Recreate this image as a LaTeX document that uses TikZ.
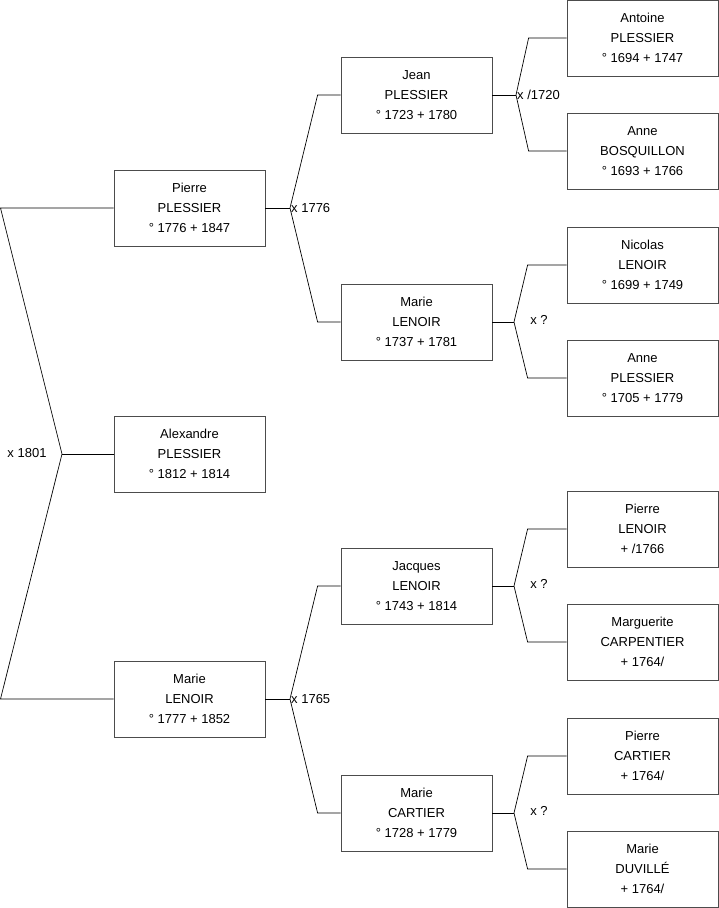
\documentclass[tikz,border=0pt]{standalone}
\usepackage{fontspec}
\setmainfont{Liberation Sans}
\usetikzlibrary{calc, positioning}
\tikzset{
    person/.style={draw=black!70, line width=0.8pt, minimum width=151pt, minimum height=76pt, inner sep=0pt, align=center, font=\fontsize{13}{20}\selectfont},
    branch/.style={black, line width=0.7pt},
    wedding/.style={inner sep=1pt, font=\fontsize{13}{16}\selectfont}
}

\begin{document}
\begin{tikzpicture}[x=1pt, y=-1pt]
        \useasboundingbox (0,0) rectangle (719,908);

        \node [person] (pierre) at (189.5,208) {Pierre\\PLESSIER\\° 1776 + 1847};
        \node [person] (alexandre) at (189.5,454) {Alexandre\\PLESSIER\\° 1812 + 1814};
        \node [person] (marieL) at (189.5,699) {Marie\\LENOIR\\° 1777 + 1852};

        \node [person] (jean) at (416.5,95) {Jean\\PLESSIER\\° 1723 + 1780};
        \node [person] (marieLL) at (416.5,322) {Marie\\LENOIR\\° 1737 + 1781};
        \node [person] (jacques) at (416.5,586) {Jacques\\LENOIR\\° 1743 + 1814};
        \node [person] (marieC) at (416.5,813) {Marie\\CARTIER\\° 1728 + 1779};

        \node [person] (antoine) at (642.5,38) {Antoine\\PLESSIER\\° 1694 + 1747};
        \node [person] (anneB) at (642.5,151) {Anne\\BOSQUILLON\\° 1693 + 1766};
        \node [person] (nicolas) at (642.5,265) {Nicolas\\LENOIR\\° 1699 + 1749};
        \node [person] (anneP) at (642.5,378) {Anne\\PLESSIER\\° 1705 + 1779};
        \node [person] (pierreL) at (642.5,529) {Pierre\\LENOIR\\+ /1766};
        \node [person] (marguerite) at (642.5,642) {Marguerite\\CARPENTIER\\+ 1764/};
        \node [person] (pierreC) at (642.5,756) {Pierre\\CARTIER\\+ 1764/};
        \node [person] (marieD) at (642.5,869) {Marie\\DUVILLÉ\\+ 1764/};

        % root couple
        \coordinate (rootA) at (0.5,208);
        \coordinate (rootB) at (0.5,699);
        \coordinate (wedRoot) at (62,454);
        \draw [branch] (pierre.west) -- (rootA) -- (wedRoot) -- (rootB) -- (marieL.west);
        \draw [branch] (wedRoot) -- (alexandre.west);
        \node [wedding] (lblRoot) at (27,453) {x 1801};

        % parents
        \coordinate (wedP) at (290,208);
        \draw [branch] (pierre.east) -- (wedP);
        \draw [branch] (jean.west) -- ++(-23,0) -- (wedP) -- ($(marieLL.west)+(-23,0)$) -- (marieLL.west);
        \node [wedding, anchor=west] (lblP) at (wedP) {x 1776};

        \coordinate (wedM) at (290,699);
        \draw [branch] (marieL.east) -- (wedM);
        \draw [branch] (jacques.west) -- ++(-23,0) -- (wedM) -- ($(marieC.west)+(-23,0)$) -- (marieC.west);
        \node [wedding, anchor=west] (lblM) at (wedM) {x 1765};

        % grandparents
        \coordinate (wedJ) at (516,95);
        \draw [branch] (jean.east) -- (wedJ);
        \draw [branch] (antoine.west) -- ++(-38,0) -- (wedJ) -- ($(anneB.west)+(-38,0)$) -- (anneB.west);
        \node [wedding, anchor=west] (lblJ) at (wedJ) {x /1720};

        \coordinate (wedL) at (514,322);
        \draw [branch] (marieLL.east) -- (wedL);
        \draw [branch] (nicolas.west) -- ++(-39,0) -- (wedL) -- ($(anneP.west)+(-39,0)$) -- (anneP.west);
        \node [wedding] (lblL) at (539,320) {x ?};

        \coordinate (wedJa) at (514,586);
        \draw [branch] (jacques.east) -- (wedJa);
        \draw [branch] (pierreL.west) -- ++(-39,0) -- (wedJa) -- ($(marguerite.west)+(-39,0)$) -- (marguerite.west);
        \node [wedding] (lblJa) at (539,584) {x ?};

        \coordinate (wedC) at (514,813);
        \draw [branch] (marieC.east) -- (wedC);
        \draw [branch] (pierreC.west) -- ++(-39,0) -- (wedC) -- ($(marieD.west)+(-39,0)$) -- (marieD.west);
        \node [wedding] (lblC) at (539,811) {x ?};
    \end{tikzpicture}
\end{document}
